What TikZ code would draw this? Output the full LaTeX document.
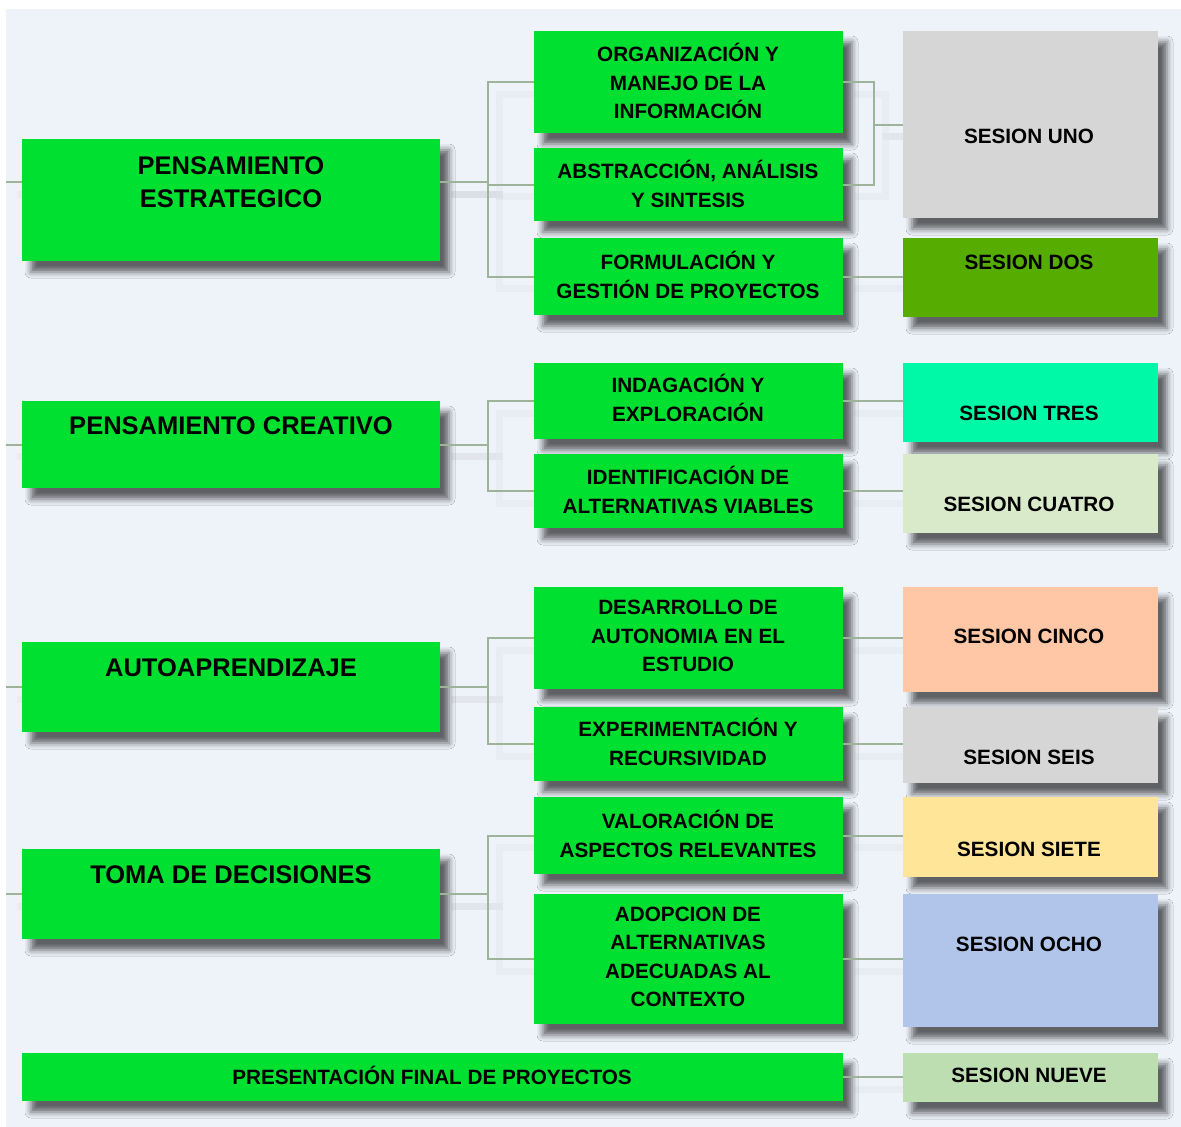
\documentclass[tikz,border=0pt]{standalone}
\usepackage{fontspec}
\setmainfont{Liberation Sans}
\usetikzlibrary{shadows.blur}
\definecolor{bgblue}{RGB}{238, 243, 250}
\definecolor{boxgreen}{RGB}{0, 224, 48}
\definecolor{linkc}{RGB}{157, 179, 154}
\definecolor{sgray}{RGB}{214, 214, 214}
\definecolor{sdos}{RGB}{86, 173, 0}
\definecolor{stres}{RGB}{0, 249, 166}
\definecolor{scuatro}{RGB}{217, 234, 203}
\definecolor{scinco}{RGB}{255, 199, 165}
\definecolor{ssiete}{RGB}{255, 229, 151}
\definecolor{socho}{RGB}{177, 196, 234}
\definecolor{snueve}{RGB}{189, 222, 177}

\tikzset{
  box/.style={fill=#1, anchor=north west, inner sep=0pt, outer sep=0pt,
    blur shadow={shadow xshift=9pt, shadow yshift=-11pt, shadow blur radius=6pt, shadow opacity=60}},
  bigtxt/.style={font=\bfseries\fontsize{25.5}{32.5}\selectfont, align=center, inner sep=0pt},
  txt/.style={font=\bfseries\fontsize{20.7}{28.5}\selectfont, align=center, inner sep=0pt},
  link/.style={draw=linkc, line width=2pt,
    preaction={draw=black!40, opacity=.07, line width=7pt, shorten >=11pt,
      transform canvas={shift={(11pt,-12pt)}}}}
}

\begin{document}
\begin{tikzpicture}[x=1pt, y=-1pt]
%background
\fill[white] (0,0) rectangle (1181,1127);
\fill[bgblue] (6,9) rectangle (1181,1127);
\useasboundingbox (0,0) rectangle (1181,1127);
\coordinate (edge) at (6,0);

%left column
\node[box=boxgreen, minimum width=418, minimum height=122] (L1) at (22,139) {};
\node[box=boxgreen, minimum width=418, minimum height=87] (L2) at (22,401) {};
\node[box=boxgreen, minimum width=418, minimum height=90] (L3) at (22,642) {};
\node[box=boxgreen, minimum width=418, minimum height=90] (L4) at (22,849) {};
\node[box=boxgreen, minimum width=821, minimum height=48] (L5) at (22,1053) {};

%middle column
\node[box=boxgreen, minimum width=309, minimum height=102] (M1) at (534,31) {};
\node[box=boxgreen, minimum width=309, minimum height=73] (M2) at (534,148) {};
\node[box=boxgreen, minimum width=309, minimum height=77] (M3) at (534,238) {};
\node[box=boxgreen, minimum width=309, minimum height=76] (M4) at (534,363) {};
\node[box=boxgreen, minimum width=309, minimum height=74] (M5) at (534,454) {};
\node[box=boxgreen, minimum width=309, minimum height=102] (M6) at (534,587) {};
\node[box=boxgreen, minimum width=309, minimum height=74] (M7) at (534,707) {};
\node[box=boxgreen, minimum width=309, minimum height=77] (M8) at (534,797) {};
\node[box=boxgreen, minimum width=309, minimum height=130] (M9) at (534,894) {};

%right column
\node[box=sgray, minimum width=255, minimum height=187] (R1) at (903,31) {};
\node[box=sdos, minimum width=255, minimum height=79] (R2) at (903,238) {};
\node[box=stres, minimum width=255, minimum height=79] (R3) at (903,363) {};
\node[box=scuatro, minimum width=255, minimum height=79] (R4) at (903,454) {};
\node[box=scinco, minimum width=255, minimum height=105] (R5) at (903,587) {};
\node[box=sgray, minimum width=255, minimum height=76] (R6) at (903,707) {};
\node[box=ssiete, minimum width=255, minimum height=80] (R7) at (903,797) {};
\node[box=socho, minimum width=255, minimum height=133] (R8) at (903,894) {};
\node[box=snueve, minimum width=255, minimum height=49] (R9) at (903,1053) {};

%texts
\node[bigtxt] (L1t) at (231,182) {PENSAMIENTO\\ESTRATEGICO};
\node[bigtxt] (L2t) at (231,426) {PENSAMIENTO CREATIVO};
\node[bigtxt] (L3t) at (231,668) {AUTOAPRENDIZAJE};
\node[bigtxt] (L4t) at (231,875) {TOMA DE DECISIONES};
\node[txt] (L5t) at (432,1075) {PRESENTACIÓN FINAL DE PROYECTOS};

\node[txt] (M1t) at (688,81) {ORGANIZACIÓN Y\\MANEJO DE LA\\INFORMACIÓN};
\node[txt] (M2t) at (688,184) {ABSTRACCIÓN, ANÁLISIS\\Y SINTESIS};
\node[txt] (M3t) at (688,275) {FORMULACIÓN Y\\GESTIÓN DE PROYECTOS};
\node[txt] (M4t) at (688,398) {INDAGACIÓN Y\\EXPLORACIÓN};
\node[txt] (M5t) at (688,490) {IDENTIFICACIÓN DE\\ALTERNATIVAS VIABLES};
\node[txt] (M6t) at (688,636) {DESARROLLO DE\\AUTONOMIA EN EL\\ESTUDIO};
\node[txt] (M7t) at (688,742) {EXPERIMENTACIÓN Y\\RECURSIVIDAD};
\node[txt] (M8t) at (688,834) {VALORACIÓN DE\\ASPECTOS RELEVANTES};
\node[txt] (M9t) at (688,957) {ADOPCION DE\\ALTERNATIVAS\\ADECUADAS AL\\CONTEXTO};

\node[txt] (R1t) at (1029,136) {SESION UNO};
\node[txt] (R2t) at (1029,262) {SESION DOS};
\node[txt] (R3t) at (1029,413) {SESION TRES};
\node[txt] (R4t) at (1029,504) {SESION CUATRO};
\node[txt] (R5t) at (1029,636) {SESION CINCO};
\node[txt] (R6t) at (1029,757) {SESION SEIS};
\node[txt] (R7t) at (1029,849) {SESION SIETE};
\node[txt] (R8t) at (1029,944) {SESION OCHO};
\node[txt] (R9t) at (1029,1075) {SESION NUEVE};

%connectors
\draw[link] (edge |- L1t) -- (L1.west |- L1t);
\draw[link] (edge |- L2.west) -- (L2.west);
\draw[link] (edge |- L3.west) -- (L3.west);
\draw[link] (edge |- L4.west) -- (L4.west);

\draw[link] (L1.east |- L1t) -- ++(48,0) |- (M1.west);
\draw[link] (L1.east |- L1t) -- ++(48,0) |- (M2.west);
\draw[link] (L1.east |- L1t) -- ++(48,0) |- (M3.west);
\draw[link] (L2.east) -- ++(48,0) |- (M4.west);
\draw[link] (L2.east) -- ++(48,0) |- (M5.west);
\draw[link] (L3.east) -- ++(48,0) |- (M6.west);
\draw[link] (L3.east) -- ++(48,0) |- (M7.west);
\draw[link] (L4.east) -- ++(48,0) |- (M8.west);
\draw[link] (L4.east) -- ++(48,0) |- (M9.west);

\draw[link] (M1.east) -- ++(31,0) |- (R1.west);
\draw[link] (M2.east) -- ++(31,0) |- (R1.west);
\draw[link] (M3.east) -- (M3.east -| R2.west);
\draw[link] (M4.east) -- (M4.east -| R3.west);
\draw[link] (M5.east) -- (M5.east -| R4.west);
\draw[link] (M6.east) -- (M6.east -| R5.west);
\draw[link] (M7.east) -- (M7.east -| R6.west);
\draw[link] (M8.east) -- (M8.east -| R7.west);
\draw[link] (M9.east) -- (M9.east -| R8.west);
\draw[link] (L5.east) -- (L5.east -| R9.west);
\end{tikzpicture}
\end{document}
